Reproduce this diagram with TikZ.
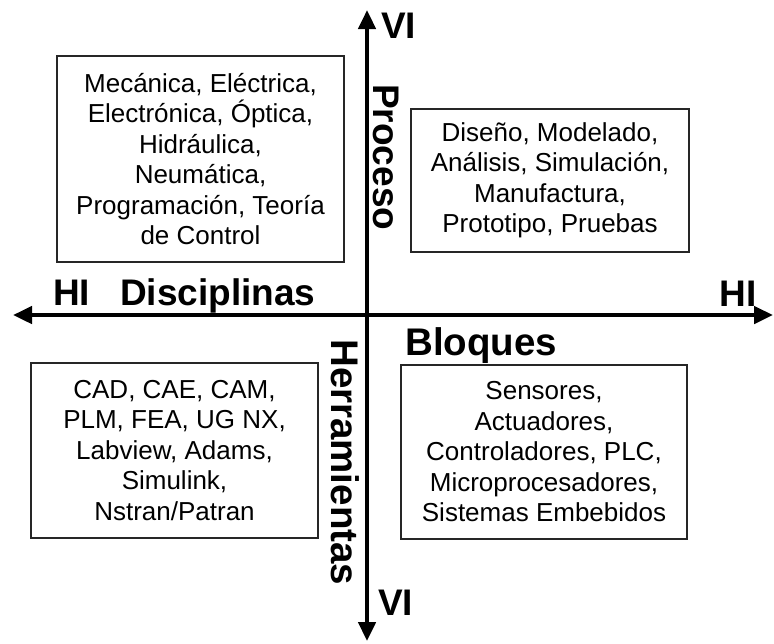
\documentclass[tikz,border=0pt]{standalone}
\usepackage{fontspec}
\setmainfont{Liberation Sans}
\usetikzlibrary{arrows.meta}
\begin{document}
\begin{tikzpicture}[x=1pt,y=-1pt,
  axis/.style={line width=4.6pt,{Triangle[length=19pt,width=17pt]}-{Triangle[length=19pt,width=17pt]}},
  box/.style={draw=black!85,line width=1.3pt,align=center,inner sep=0pt,
    font=\fontsize{26}{30.5}\selectfont},
  lbl/.style={font=\fontsize{37}{40}\selectfont\bfseries,inner sep=0pt},
  biglbl/.style={font=\fontsize{38.5}{40}\selectfont\bfseries,inner sep=0pt}]
\useasboundingbox (0,0) rectangle (774,643);
% axes
\coordinate (top) at (367,10);
\coordinate (bottom) at (367,641);
\coordinate (left) at (13,315);
\coordinate (right) at (773,315);
\draw[axis] (top) -- (bottom);
\draw[axis] (left) -- (right);
% boxes
\node[box,minimum width=287pt,minimum height=206pt] (tl) at (200.5,159)
  {Mecánica, Eléctrica,\\Electrónica, Óptica,\\Hidráulica,\\Neumática,\\Programación, Teoría\\de Control};
\node[box,minimum width=278pt,minimum height=143pt] (tr) at (550,180.5)
  {Diseño, Modelado,\\Análisis, Simulación,\\Manufactura,\\Prototipo, Pruebas};
\node[box,minimum width=287pt,minimum height=175pt] (bl) at (174.5,450.5)
  {CAD, CAE, CAM,\\PLM, FEA, UG NX,\\Labview, Adams,\\Simulink,\\Nstran/Patran};
\node[box,minimum width=286pt,minimum height=174pt] (br) at (544,452)
  {Sensores,\\Actuadores,\\Controladores, PLC,\\Microprocesadores,\\Sistemas Embebidos};
% labels
\node[lbl,anchor=base west] (vitop) at (381,38) {VI};
\node[lbl,anchor=base west] (vibot) at (378,615) {VI};
\node[lbl,anchor=base west] (dis) at (53,305) {HI\hspace{30pt}Disciplinas};
\node[lbl,anchor=base east] (hir) at (757,306) {HI};
\node[biglbl,anchor=base west] (blo) at (405,355) {Bloques};
\node[lbl,anchor=base west,rotate=-90] (pro) at (373,84) {Proceso};
\node[biglbl,anchor=base west,rotate=-90] (her) at (331,339) {Herramientas};
\end{tikzpicture}
\end{document}
